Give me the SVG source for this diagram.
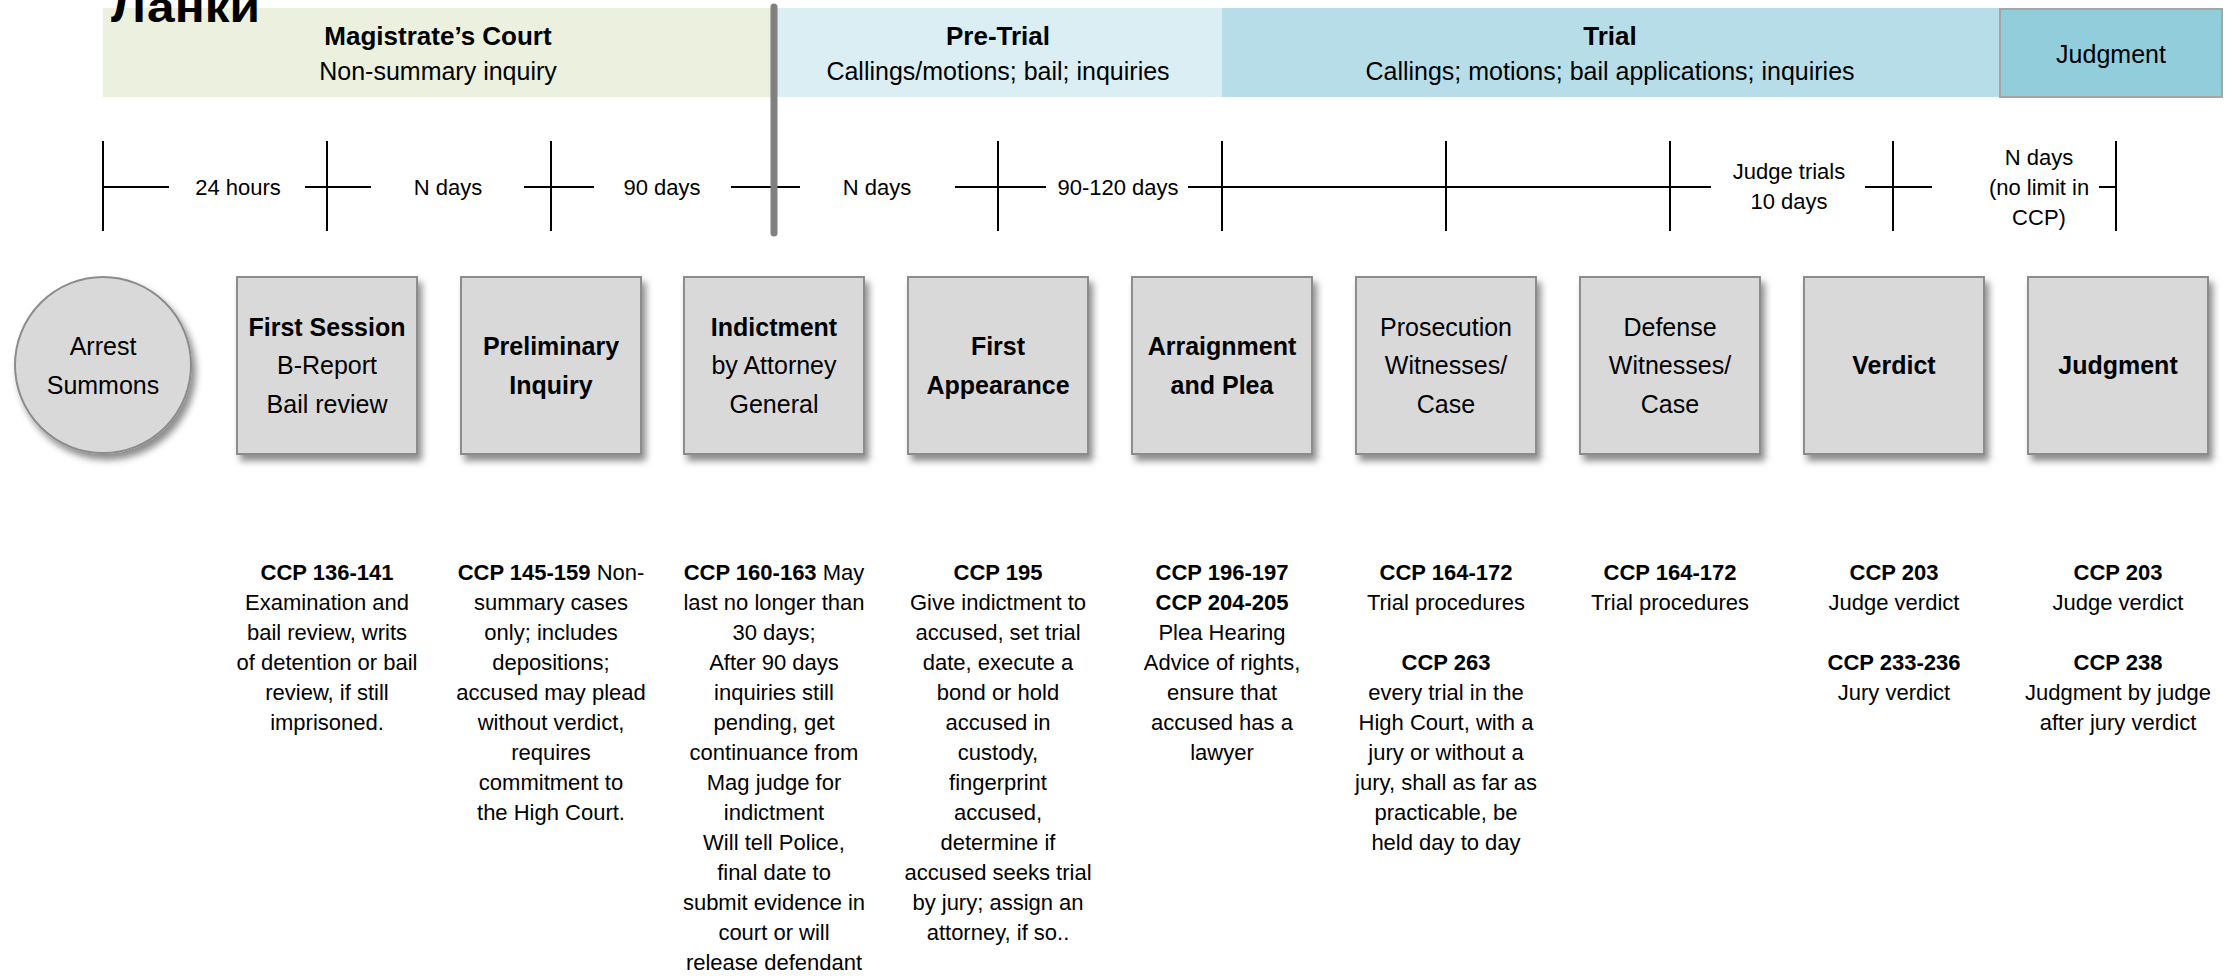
<svg xmlns="http://www.w3.org/2000/svg" width="2236" height="978" viewBox="0 0 2236 978">
<style>
text{font-family:"Liberation Sans",Arial,sans-serif;fill:#000;text-anchor:middle}
.bt{font-size:26px;font-weight:bold}
.bs{font-size:25px}
.nd{font-size:25px}
.b{font-weight:bold}
.tl{font-size:22px}
.nt{font-size:22px}
.node{fill:#d9d9d9;stroke:#8c8c8c;stroke-width:2;filter:url(#sh)}
.tk{stroke:#000;stroke-width:2;fill:none}
</style>
<defs>
<filter id="sh" x="-20%" y="-20%" width="150%" height="150%">
<feDropShadow dx="4" dy="6" stdDeviation="3.5" flood-color="#000" flood-opacity="0.45"/>
</filter>
</defs>
<rect width="2236" height="978" fill="#fff"/>
<g id="bands">
<rect x="103" y="8" width="671" height="89" fill="#ebf1de"/>
<rect x="774" y="8" width="448" height="89" fill="#dbeef3"/>
<rect x="1222" y="8" width="777" height="89" fill="#b7dee8"/>
<rect x="2000" y="9" width="222" height="88" fill="#92cddc" stroke="#a5a5a5" stroke-width="2"/>
<text class="bt" x="438" y="45">Magistrate’s Court</text>
<text class="bs" x="438" y="80">Non-summary inquiry</text>
<text class="bt" x="998" y="45">Pre-Trial</text>
<text class="bs" x="998" y="80">Callings/motions; bail; inquiries</text>
<text class="bt" x="1610" y="45">Trial</text>
<text class="bs" x="1610" y="80">Callings; motions; bail applications; inquiries</text>
<text class="bs" x="2111" y="63">Judgment</text>
</g>
<text id="title" x="111" y="22" style="text-anchor:start;font-size:42px;font-weight:bold" textLength="149" lengthAdjust="spacingAndGlyphs">Ланки</text>
<g id="timeline">
<path class="tk" d="M103 141V231M327 141V231M551 141V231M998 141V231M1222 141V231M1446 141V231M1670 141V231M1893 141V231M2116 141V231"/>
<path class="tk" d="M103 187H169M305 187H371M524 187H594M731 187H800M955 187H1046M1188 187H1711M1865 187H1932M2099 187H2116"/>
<line x1="774" y1="7" x2="774" y2="233" stroke="#808080" stroke-width="7" stroke-linecap="round"/>
<text class="tl" x="238" y="195">24 hours</text>
<text class="tl" x="448" y="195">N days</text>
<text class="tl" x="662" y="195">90 days</text>
<text class="tl" x="877" y="195">N days</text>
<text class="tl" x="1118" y="195">90-120 days</text>
<text class="tl" x="1789" y="179">Judge trials</text>
<text class="tl" x="1789" y="209">10 days</text>
<text class="tl" x="2039" y="165">N days</text>
<text class="tl" x="2039" y="195">(no limit in</text>
<text class="tl" x="2039" y="225">CCP)</text>
</g>
<g id="n0"><circle class="node" cx="103" cy="365" r="88"/>
<text class="nd" x="103" y="355">Arrest</text><text class="nd" x="103" y="394">Summons</text></g>
<g id="n1"><rect class="node" x="237" y="277" width="180" height="177"/>
<text class="nd b" x="327" y="336">First Session</text><text class="nd" x="327" y="374">B-Report</text><text class="nd" x="327" y="413">Bail review</text></g>
<g id="n2"><rect class="node" x="461" y="277" width="180" height="177"/>
<text class="nd b" x="551" y="355">Preliminary</text><text class="nd b" x="551" y="394">Inquiry</text></g>
<g id="n3"><rect class="node" x="684" y="277" width="180" height="177"/>
<text class="nd b" x="774" y="336">Indictment</text><text class="nd" x="774" y="374">by Attorney</text><text class="nd" x="774" y="413">General</text></g>
<g id="n4"><rect class="node" x="908" y="277" width="180" height="177"/>
<text class="nd b" x="998" y="355">First</text><text class="nd b" x="998" y="394">Appearance</text></g>
<g id="n5"><rect class="node" x="1132" y="277" width="180" height="177"/>
<text class="nd b" x="1222" y="355">Arraignment</text><text class="nd b" x="1222" y="394">and Plea</text></g>
<g id="n6"><rect class="node" x="1356" y="277" width="180" height="177"/>
<text class="nd" x="1446" y="336">Prosecution</text><text class="nd" x="1446" y="374">Witnesses/</text><text class="nd" x="1446" y="413">Case</text></g>
<g id="n7"><rect class="node" x="1580" y="277" width="180" height="177"/>
<text class="nd" x="1670" y="336">Defense</text><text class="nd" x="1670" y="374">Witnesses/</text><text class="nd" x="1670" y="413">Case</text></g>
<g id="n8"><rect class="node" x="1804" y="277" width="180" height="177"/>
<text class="nd b" x="1894" y="374">Verdict</text></g>
<g id="n9"><rect class="node" x="2028" y="277" width="180" height="177"/>
<text class="nd b" x="2118" y="374">Judgment</text></g>
<g id="notes">
<g id="c1"><text class="nt b" x="327" y="580">CCP 136-141</text>
<text class="nt" x="327" y="610">Examination and</text>
<text class="nt" x="327" y="640">bail review, writs</text>
<text class="nt" x="327" y="670">of detention or bail</text>
<text class="nt" x="327" y="700">review, if still</text>
<text class="nt" x="327" y="730">imprisoned.</text></g>
<g id="c2"><text class="nt" x="551" y="580"><tspan class="b">CCP 145-159</tspan> Non-</text>
<text class="nt" x="551" y="610">summary cases</text>
<text class="nt" x="551" y="640">only; includes</text>
<text class="nt" x="551" y="670">depositions;</text>
<text class="nt" x="551" y="700">accused may plead</text>
<text class="nt" x="551" y="730">without verdict,</text>
<text class="nt" x="551" y="760">requires</text>
<text class="nt" x="551" y="790">commitment to</text>
<text class="nt" x="551" y="820">the High Court.</text></g>
<g id="c3"><text class="nt" x="774" y="580"><tspan class="b">CCP 160-163</tspan> May</text>
<text class="nt" x="774" y="610">last no longer than</text>
<text class="nt" x="774" y="640">30 days;</text>
<text class="nt" x="774" y="670">After 90 days</text>
<text class="nt" x="774" y="700">inquiries still</text>
<text class="nt" x="774" y="730">pending, get</text>
<text class="nt" x="774" y="760">continuance from</text>
<text class="nt" x="774" y="790">Mag judge for</text>
<text class="nt" x="774" y="820">indictment</text>
<text class="nt" x="774" y="850">Will tell Police,</text>
<text class="nt" x="774" y="880">final date to</text>
<text class="nt" x="774" y="910">submit evidence in</text>
<text class="nt" x="774" y="940">court or will</text>
<text class="nt" x="774" y="970">release defendant</text></g>
<g id="c4"><text class="nt b" x="998" y="580">CCP 195</text>
<text class="nt" x="998" y="610">Give indictment to</text>
<text class="nt" x="998" y="640">accused, set trial</text>
<text class="nt" x="998" y="670">date, execute a</text>
<text class="nt" x="998" y="700">bond or hold</text>
<text class="nt" x="998" y="730">accused in</text>
<text class="nt" x="998" y="760">custody,</text>
<text class="nt" x="998" y="790">fingerprint</text>
<text class="nt" x="998" y="820">accused,</text>
<text class="nt" x="998" y="850">determine if</text>
<text class="nt" x="998" y="880">accused seeks trial</text>
<text class="nt" x="998" y="910">by jury; assign an</text>
<text class="nt" x="998" y="940">attorney, if so..</text></g>
<g id="c5"><text class="nt b" x="1222" y="580">CCP 196-197</text>
<text class="nt b" x="1222" y="610">CCP 204-205</text>
<text class="nt" x="1222" y="640">Plea Hearing</text>
<text class="nt" x="1222" y="670">Advice of rights,</text>
<text class="nt" x="1222" y="700">ensure that</text>
<text class="nt" x="1222" y="730">accused has a</text>
<text class="nt" x="1222" y="760">lawyer</text></g>
<g id="c6"><text class="nt b" x="1446" y="580">CCP 164-172</text>
<text class="nt" x="1446" y="610">Trial procedures</text>
<text class="nt b" x="1446" y="670">CCP 263</text>
<text class="nt" x="1446" y="700">every trial in the</text>
<text class="nt" x="1446" y="730">High Court, with a</text>
<text class="nt" x="1446" y="760">jury or without a</text>
<text class="nt" x="1446" y="790">jury, shall as far as</text>
<text class="nt" x="1446" y="820">practicable, be</text>
<text class="nt" x="1446" y="850">held day to day</text></g>
<g id="c7"><text class="nt b" x="1670" y="580">CCP 164-172</text>
<text class="nt" x="1670" y="610">Trial procedures</text></g>
<g id="c8"><text class="nt b" x="1894" y="580">CCP 203</text>
<text class="nt" x="1894" y="610">Judge verdict</text>
<text class="nt b" x="1894" y="670">CCP 233-236</text>
<text class="nt" x="1894" y="700">Jury verdict</text></g>
<g id="c9"><text class="nt b" x="2118" y="580">CCP 203</text>
<text class="nt" x="2118" y="610">Judge verdict</text>
<text class="nt b" x="2118" y="670">CCP 238</text>
<text class="nt" x="2118" y="700">Judgment by judge</text>
<text class="nt" x="2118" y="730">after jury verdict</text></g>
</g>
</svg>
